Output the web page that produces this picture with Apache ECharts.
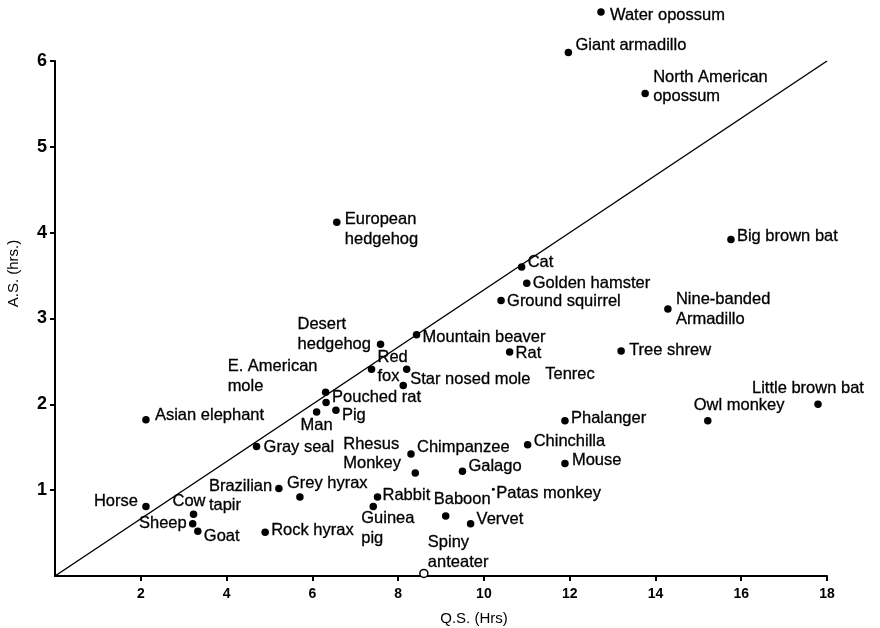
<!DOCTYPE html>
<html>
<head>
<meta charset="utf-8">
<script src="https://cdn.jsdelivr.net/npm/echarts@6/dist/echarts.min.js"></script>
<style>
html,body{margin:0;padding:0;background:#fff;}
#chart{width:880px;height:628px;}
</style>
</head>
<body>
<div id="chart"></div>
<script>
// ---- data ----
const names = [
  'Water opossum','Giant armadillo','North American\nopossum','European\nhedgehog','Big brown bat',
  'Cat','Golden hamster','Ground squirrel','Nine-banded\nArmadillo','Mountain beaver',
  'Desert\nhedgehog','Rat','Tree shrew','Red\nfox','',
  'Star nosed mole','Tenrec','E. American\nmole','Pouched rat','Little brown bat',
  'Man','Pig','Asian elephant','Phalanger','Owl monkey',
  'Gray seal','Chinchilla','Chimpanzee','Rhesus\nMonkey','Mouse',
  'Galago','Brazilian\ntapir','Patas monkey','Grey hyrax','Rabbit',
  'Horse','Guinea\npig','Cow','Baboon','Sheep',
  'Vervet','Goat','Rock hyrax','Spiny\nanteater'
];
const qs = [
  12.73, 11.97, 13.76, 6.57, 15.76,
  10.88, 11.00, 10.40, 14.29, 8.43,
  7.59, 10.60, 13.20, 7.38, 8.20,
  8.12, 11.50, 6.31, 6.32, 17.79,
  6.10, 6.55, 2.12, 11.89, 15.22,
  4.70, 11.02, 8.30, 8.40, 11.89,
  9.50, 5.22, 10.22, 5.71, 7.52,
  2.12, 7.42, 3.23, 9.11, 3.21,
  9.69, 3.33, 4.90, 8.60
];
const as = [
  6.57, 6.10, 5.62, 4.12, 3.92,
  3.60, 3.41, 3.21, 3.11, 2.81,
  2.70, 2.61, 2.62, 2.41, 2.41,
  2.22, 2.35, 2.14, 2.02, 2.00,
  1.91, 1.93, 1.82, 1.81, 1.81,
  1.51, 1.53, 1.42, 1.20, 1.31,
  1.22, 1.02, 1.01, 0.92, 0.92,
  0.81, 0.81, 0.72, 0.70, 0.61,
  0.61, 0.52, 0.51, 0.03
];
const diagonalQS = [0, 18];
const diagonalAS = [0, 6];
const xTicks = [2, 4, 6, 8, 10, 12, 14, 16, 18];
const yTicks = [1, 2, 3, 4, 5, 6];

// ---- label placement (pixel offsets from the dot centre; styling only) ----
const labelOffsets = {
  'Water opossum':[9,3], 'Giant armadillo':[7,-7], 'North American\nopossum':[8,-6.5],
  'European\nhedgehog':[8,7], 'Big brown bat':[6,-3], 'Cat':[6,-5], 'Golden hamster':[6,0],
  'Ground squirrel':[6,1], 'Nine-banded\nArmadillo':[8,0.5], 'Mountain beaver':[6,3],
  'Desert\nhedgehog':[-83,-10], 'Rat':[6,1], 'Tree shrew':[8,-1], 'Red\nfox':[6,-2],
  'Star nosed mole':[7,-6], 'Tenrec':[-3,0], 'E. American\nmole':[-98,-16], 'Pouched rat':[6,-5],
  'Little brown bat':[-66,-16], 'Man':[-16,13], 'Pig':[6,5], 'Asian elephant':[9,-4],
  'Phalanger':[6,-2], 'Owl monkey':[-14,-15], 'Gray seal':[7,1], 'Chinchilla':[6,-3],
  'Chimpanzee':[6,-7], 'Rhesus\nMonkey':[-72,-19], 'Mouse':[7,-3], 'Galago':[6,-5],
  'Brazilian\ntapir':[-70,7.5], 'Patas monkey':[3,4], 'Grey hyrax':[-13,-14], 'Rabbit':[5,-2],
  'Horse':[-8,-5,'right'], 'Guinea\npig':[-12,22], 'Cow':[-21,-13], 'Baboon':[-12,-16],
  'Sheep':[-6,0,'right'], 'Vervet':[6,-4], 'Goat':[6,5], 'Rock hyrax':[6,-2],
  'Spiny\nanteater':[4,-21]
};
const markerStyles = {
  'Tenrec': {symbolSize: 0},
  'Patas monkey': {symbolSize: 3},
  'Spiny\nanteater': {symbolSize: 8, itemStyle: {color: '#fff', borderColor: '#000', borderWidth: 1.5, opacity: 1}}
};

const INK = '#000';
const FONT = '"Liberation Sans", Arial, Helvetica, sans-serif';

const scatterData = names.map((n, i) => {
  const off = labelOffsets[n] || [6, 0];
  const item = {
    name: n,
    value: [qs[i], as[i]],
    label: {
      show: n !== '',
      position: 'inside',
      offset: [off[0], off[1]],
      align: off[2] || 'left',
      verticalAlign: 'middle'
    }
  };
  const ms = markerStyles[n];
  if (ms) Object.assign(item, ms);
  return item;
});

const chart = echarts.init(document.getElementById('chart'));
chart.setOption({
  backgroundColor: '#fff',
  animation: false,
  grid: {left: 55, right: 53, top: 61, bottom: 52, containLabel: false, outerBoundsMode: 'none'},
  xAxis: {
    type: 'value', min: 0, max: 18, interval: 2,
    name: 'Q.S. (Hrs)', nameLocation: 'middle', nameGap: 35,
    nameTextStyle: {fontFamily: FONT, fontSize: 15, color: INK, padding: [0, 0, 0, 66]},
    axisLine: {show: true, lineStyle: {color: INK, width: 2}},
    axisTick: {show: true, customValues: xTicks, length: 5, lineStyle: {color: INK, width: 2}},
    axisLabel: {customValues: xTicks, fontFamily: FONT, fontSize: 14, fontWeight: 'bold', color: INK, margin: 11},
    splitLine: {show: false}
  },
  yAxis: {
    type: 'value', min: 0, max: 6, interval: 1,
    name: 'A.S. (hrs.)', nameLocation: 'middle', nameGap: 34, nameRotate: 90,
    nameTextStyle: {fontFamily: FONT, fontSize: 15, color: INK, padding: [0, 0, 0, 90]},
    axisLine: {show: true, lineStyle: {color: INK, width: 2}},
    axisTick: {show: true, customValues: yTicks, length: 5, lineStyle: {color: INK, width: 2}},
    axisLabel: {customValues: yTicks, fontFamily: FONT, fontSize: 18, fontWeight: 'bold', color: INK, margin: 8},
    splitLine: {show: false}
  },
  series: [
    {
      type: 'line',
      data: diagonalQS.map((x, i) => [x, diagonalAS[i]]),
      symbol: 'none',
      silent: true,
      lineStyle: {color: INK, width: 1.5, opacity: 1},
      z: 1
    },
    {
      type: 'scatter',
      data: scatterData,
      symbol: 'circle',
      symbolSize: 7.5,
      clip: false,
      itemStyle: {color: INK, opacity: 1},
      label: {
        color: INK,
        fontFamily: FONT,
        fontSize: 16.5,
        lineHeight: 19.5,
        textBorderColor: INK,
        textBorderWidth: 0.3,
        formatter: p => p.name
      },
      emphasis: {disabled: true},
      z: 3
    }
  ]
});
</script>
</body>
</html>
